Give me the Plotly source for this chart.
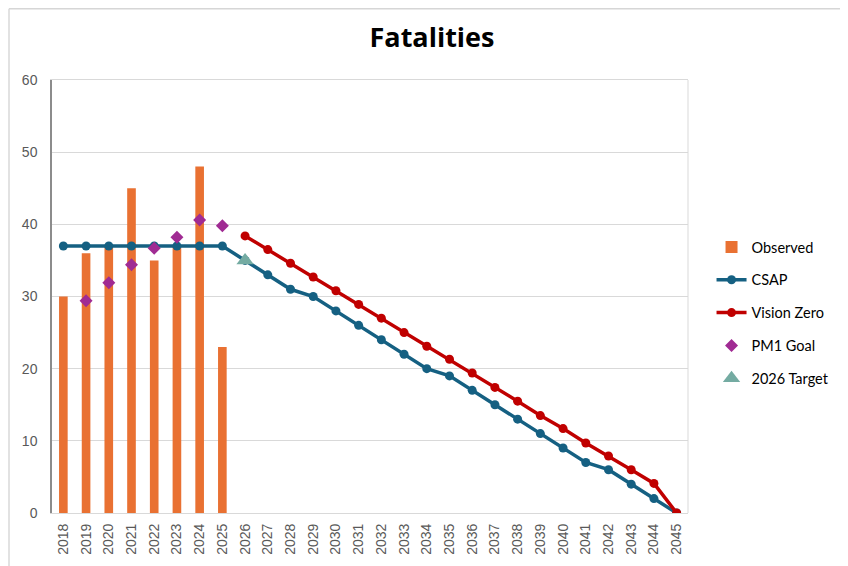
import plotly.graph_objects as go

years = ["2018", "2019", "2020", "2021", "2022", "2023", "2024", "2025", "2026", "2027",
         "2028", "2029", "2030", "2031", "2032", "2033", "2034", "2035", "2036", "2037",
         "2038", "2039", "2040", "2041", "2042", "2043", "2044", "2045"]
observed_years = ["2018", "2019", "2020", "2021", "2022", "2023", "2024", "2025"]
observed = [30, 36, 37, 45, 35, 37, 48, 23]
csap = [37, 37, 37, 37, 37, 37, 37, 37, 35, 33, 31, 30, 28, 26, 24, 22, 20, 19, 17, 15,
        13, 11, 9, 7, 6, 4, 2, 0]
vz_years = ["2026", "2027", "2028", "2029", "2030", "2031", "2032", "2033", "2034", "2035",
            "2036", "2037", "2038", "2039", "2040", "2041", "2042", "2043", "2044", "2045"]
vision_zero = [38.4, 36.5, 34.6, 32.7, 30.8, 28.9, 27.0, 25.0, 23.1, 21.3,
               19.4, 17.4, 15.5, 13.5, 11.7, 9.7, 7.9, 6.0, 4.1, 0]
pm1_years = ["2019", "2020", "2021", "2022", "2023", "2024", "2025"]
pm1_goal = [29.4, 31.9, 34.4, 36.7, 38.2, 40.6, 39.8]
target_years = ["2026"]
target = [35]

ORANGE = "#E97132"
BLUE = "#156082"
RED = "#C00000"
PURPLE = "#A02B93"
TEAL = "#74ABA2"

fig = go.Figure()
fig.add_trace(go.Bar(x=observed_years, y=observed, name="Observed", marker_color=ORANGE,
                     marker_line_width=0, width=0.38, legendgroup="a"))
fig.add_trace(go.Scatter(x=years, y=csap, name="CSAP", mode="lines+markers",
                         line=dict(color=BLUE, width=3.5), marker=dict(size=9, color=BLUE),
                         legendgroup="b"))
fig.add_trace(go.Scatter(x=vz_years, y=vision_zero, name="Vision Zero", mode="lines+markers",
                         line=dict(color=RED, width=3.5), marker=dict(size=9, color=RED),
                         legendgroup="c"))
fig.add_trace(go.Scatter(x=pm1_years, y=pm1_goal, name="PM1 Goal", mode="markers",
                         marker=dict(symbol="diamond", size=10, color=PURPLE),
                         legendgroup="d"))
fig.add_trace(go.Scatter(x=target_years, y=target, name="2026 Target", mode="markers",
                         marker=dict(symbol="triangle-up", size=15, color=TEAL),
                         legendgroup="e"))

fig.update_layout(
    width=848, height=566,
    margin=dict(l=44, r=168, t=72, b=61),
    paper_bgcolor="white", plot_bgcolor="white",
    title=dict(text="<b>Fatalities</b>", x=0.5, xref="container", y=1 - 30 / 566,
               yanchor="middle", xanchor="center",
               font=dict(family="Open Sans", size=27, color="black")),
    showlegend=True,
    legend=dict(x=1.037, xanchor="left", y=0.462, yanchor="middle", tracegroupgap=11,
                font=dict(family="Lato, Open Sans", size=14.5, color="black"),
                bgcolor="rgba(0,0,0,0)", itemwidth=30),
    barmode="overlay",
    xaxis=dict(type="category", categoryorder="array", categoryarray=years,
               tickangle=-90, tickfont=dict(family="Liberation Sans, Arial", size=14, color="#595959"),
               showgrid=False, showline=True, linecolor="#D9D9D9", linewidth=1, mirror=True,
               ticks="", range=[-0.5, 27.5], ticklabelstandoff=4),
    yaxis=dict(range=[0, 60], dtick=10, showgrid=True, gridcolor="#D9D9D9", gridwidth=1,
               tickfont=dict(family="Liberation Sans, Arial", size=14, color="#595959"),
               showline=True, linecolor="#8C8C8C", linewidth=1.5, ticks="",
               ticklabelstandoff=10, zeroline=False),
    shapes=[
        dict(type="line", xref="paper", yref="paper", x0=1, x1=1, y0=0, y1=1,
             line=dict(color="#D9D9D9", width=1)),
        dict(type="line", xref="paper", yref="paper", x0=-0.0676, x1=-0.0676, y0=-0.2, y1=1.1645,
             line=dict(color="#D9D9D9", width=1.5)),
        dict(type="line", xref="paper", yref="paper", x0=-0.0676, x1=1.4, y0=1.1645, y1=1.1645,
             line=dict(color="#D6D6D6", width=1.5)),
    ],
)

fig.write_html("out.html")
